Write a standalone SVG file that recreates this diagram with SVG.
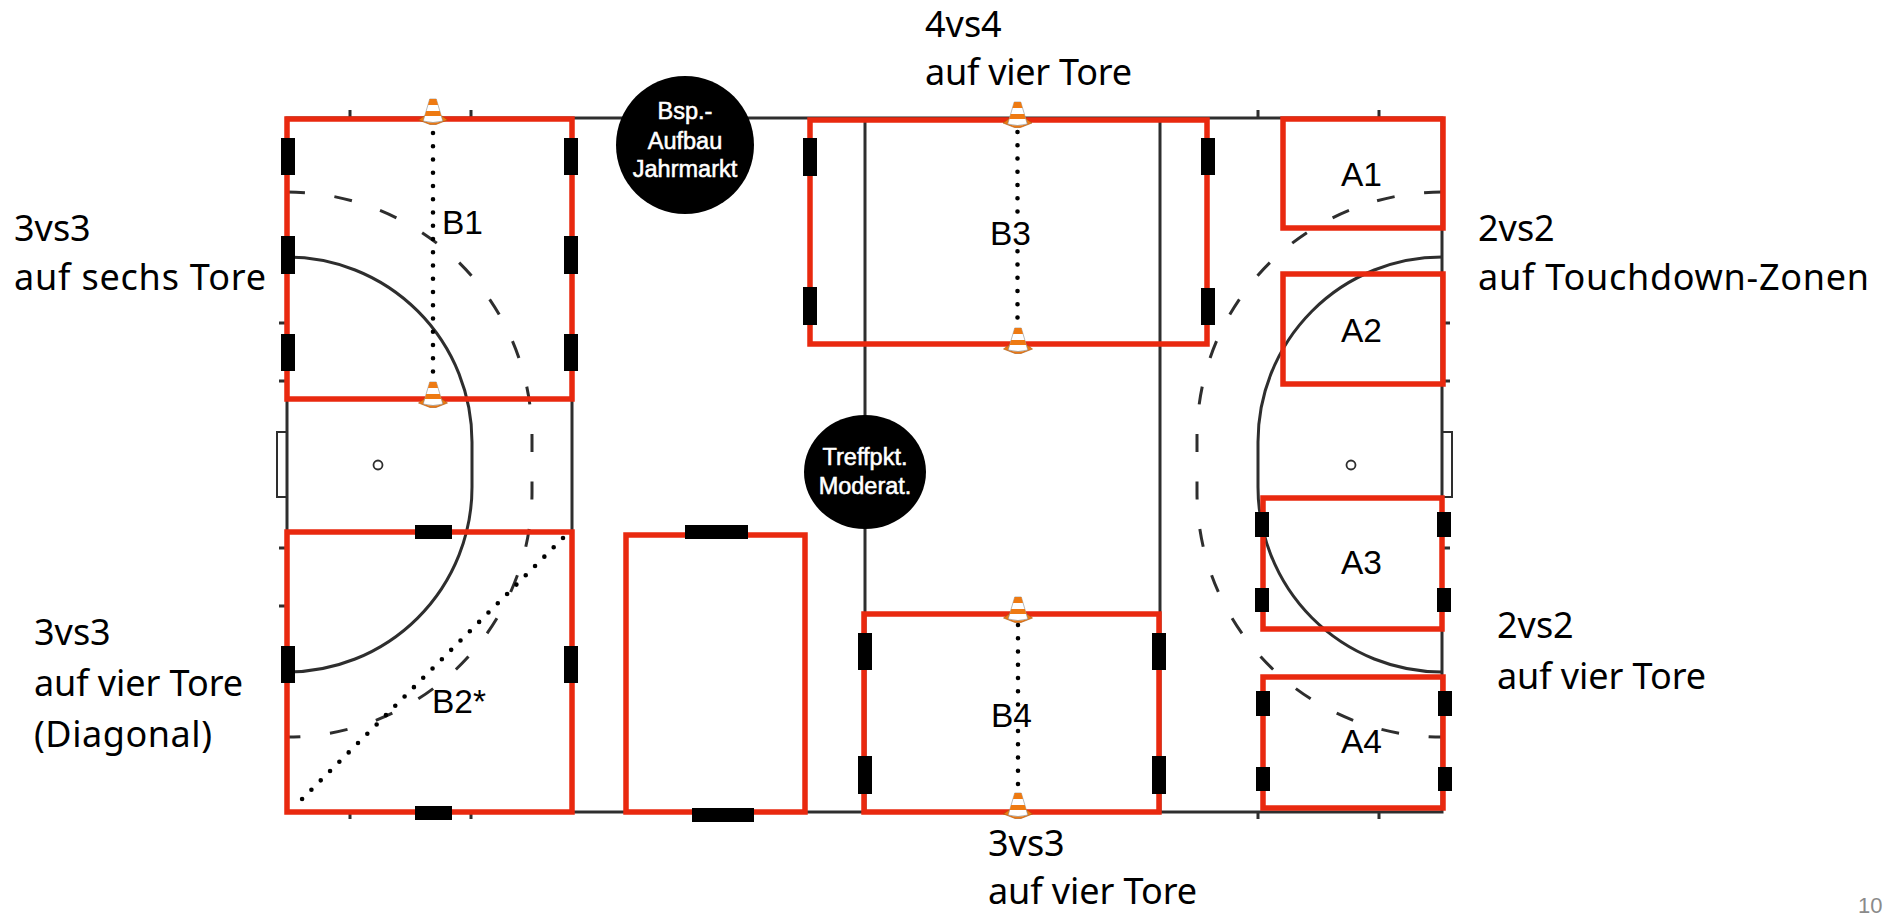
<svg xmlns="http://www.w3.org/2000/svg" xmlns:xlink="http://www.w3.org/1999/xlink" width="1888" height="915" viewBox="0 0 1888 915">
<style>
.ln{fill:none;stroke:#2e2e2e;stroke-width:3}
.dash{fill:none;stroke:#2e2e2e;stroke-width:3;stroke-dasharray:18 29.7}
.dots{fill:none;stroke:#000;stroke-width:4.6;stroke-linecap:round;stroke-dasharray:0 13.25}
.red{fill:none;stroke:#e9290f;stroke-width:5.5}
.g{fill:#000}
.lab{font-family:"Liberation Sans",Arial,sans-serif;font-size:33.5px;fill:#000}
.big{font-family:"Noto Sans","Open Sans",sans-serif;font-size:36px;fill:#000}
.w{font-family:"Liberation Sans",Arial,sans-serif;font-size:23.5px;fill:#fff;stroke:#fff;stroke-width:.55;text-anchor:middle}
.pg{font-family:"Liberation Sans",Arial,sans-serif;font-size:22px;fill:#8a8a8a}
</style>
<defs>
<g id="cone">
<path d="M-9 17 L-14.5 21 L-3 25.500 L3 25.500 L14.5 21 L9 17 Z" fill="#ee7a12" stroke="#a9520c" stroke-width=".6"/>
<path d="M-3.300 0 L3.300 0 L9.800 22 Q0 25 -9.800 22 Z" fill="#fff" stroke="#888" stroke-width=".6"/>
<path d="M-3.300 0 L3.300 0 L5 6 L-5 6 Z M-6.800 12 L6.800 12 L8.300 17 L-8.300 17 Z" fill="#ee7a12"/>
</g>
</defs>
<rect width="1888" height="915" fill="#fff"/>
<g id="field">
<path class="ln" d="M287 118H1442V812H287ZM572 118V812M865 118V812M1160 118V812"/>
<path class="ln" d="M287 432H277V497H287M1442 432H1452V497H1442" style="stroke-width:2"/>
<path class="ln" d="M350 110V118M471 110V118M1258 110V118M1379 110V118M350 812V819M471 812V819M1258 812V819M1379 812V819M279 323H287M279 381H287M279 548H287M279 606H287M1442 323H1450M1442 381H1450M1442 548H1450M1442 606H1450"/>
<path class="ln" d="M287 257A185 185 0 0 1 472 442V487A185 185 0 0 1 287 672"/>
<path class="ln" d="M1442 257A184 185 0 0 0 1258 442V487A184 185 0 0 0 1442 672"/>
<path class="dash" d="M287 192A245 245 0 0 1 532 437V492A245 245 0 0 1 287 737"/>
<path class="dash" d="M1442 192A245 245 0 0 0 1197 437V492A245 245 0 0 0 1442 737"/>
<circle class="ln" cx="378" cy="465" r="4.500" style="stroke-width:1.8"/>
<circle class="ln" cx="1351" cy="465" r="4.500" style="stroke-width:1.8"/>
</g>
<g id="connectors">
<path class="dots" d="M433 133V373"/>
<path class="dots" d="M1017.500 132V331"/>
<path class="dots" d="M1018 625V785"/>
<path class="dots" d="M563 538L302 799.100" style="stroke-dasharray:0 13.18"/>
</g>
<g id="B1">
<rect class="red" x="287" y="119" width="285" height="280"/>
<path class="g" d="M281 138h14v37h-14zM281 236h14v38h-14zM281 334h14v37h-14zM564 138h14v37h-14zM564 236h14v38h-14zM564 334h14v37h-14z"/>
<use xlink:href="#cone" href="#cone" x="433" y="99"/>
<use xlink:href="#cone" href="#cone" x="433" y="382"/>
<text class="lab" x="442" y="234">B1</text>
</g>
<g id="B2">
<rect class="red" x="287" y="532" width="285" height="280"/>
<path class="g" d="M415 525h37v14h-37zM415 806h37v14h-37zM281 646h14v37h-14zM564 646h14v37h-14z"/>
<text class="lab" x="432" y="713">B2*</text>
</g>
<g id="mid">
<rect class="red" x="626" y="535" width="179" height="277"/>
<path class="g" d="M685 525h63v14h-63zM692 808h62v14h-62z"/>
</g>
<g id="B3">
<rect class="red" x="810" y="120" width="397" height="224"/>
<path class="g" d="M803 138h14v38h-14zM803 287h14v38h-14zM1201 138h14v37h-14zM1201 288h14v37h-14z"/>
<use xlink:href="#cone" href="#cone" x="1017.500" y="102"/>
<use xlink:href="#cone" href="#cone" x="1018" y="328"/>
<rect x="992" y="219" width="50" height="27" fill="#fff"/>
<text class="lab" x="990" y="245">B3</text>
</g>
<g id="B4">
<rect class="red" x="864" y="614" width="295" height="198"/>
<path class="g" d="M858 633h14v37h-14zM858 756h14v38h-14zM1152 633h14v37h-14zM1152 756h14v38h-14z"/>
<use xlink:href="#cone" href="#cone" x="1018" y="597"/>
<use xlink:href="#cone" href="#cone" x="1018" y="793"/>
<rect x="992" y="709" width="50" height="19" fill="#fff"/>
<text class="lab" x="991" y="727">B4</text>
</g>
<g id="A1"><rect class="red" x="1283" y="119" width="160" height="109"/><text class="lab" x="1341" y="186">A1</text></g>
<g id="A2"><rect class="red" x="1283" y="274" width="160" height="110"/><text class="lab" x="1341" y="342">A2</text></g>
<g id="A3">
<rect class="red" x="1263" y="498" width="179" height="131"/>
<path class="g" d="M1255 512h14v25h-14zM1255 588h14v24h-14zM1437 512h14v25h-14zM1437 588h14v24h-14z"/>
<text class="lab" x="1341" y="574">A3</text>
</g>
<g id="A4">
<rect class="red" x="1263" y="677" width="180" height="131"/>
<path class="g" d="M1256 691h14v25h-14zM1256 767h14v24h-14zM1438 691h14v25h-14zM1438 767h14v24h-14z"/>
<text class="lab" x="1341" y="753">A4</text>
</g>
<g id="bsp">
<circle class="g" cx="685" cy="145" r="69"/>
<text class="w" x="685" y="119">Bsp.-</text>
<text class="w" x="685" y="149">Aufbau</text>
<text class="w" x="685" y="177">Jahrmarkt</text>
</g>
<g id="treff">
<ellipse class="g" cx="865" cy="472" rx="61" ry="57"/>
<text class="w" x="865" y="465">Treffpkt.</text>
<text class="w" x="865" y="494">Moderat.</text>
</g>
<g id="captions">
<text class="big" x="14" y="241">3vs3</text>
<text class="big" x="14" y="290" textLength="252">auf sechs Tore</text>
<text class="big" x="925" y="37">4vs4</text>
<text class="big" x="925" y="85" textLength="207">auf vier Tore</text>
<text class="big" x="1478" y="241">2vs2</text>
<text class="big" x="1478" y="290" textLength="391">auf Touchdown-Zonen</text>
<text class="big" x="34" y="645">3vs3</text>
<text class="big" x="34" y="696" textLength="209">auf vier Tore</text>
<text class="big" x="34" y="747" textLength="178">(Diagonal)</text>
<text class="big" x="1497" y="638">2vs2</text>
<text class="big" x="1497" y="689" textLength="209">auf vier Tore</text>
<text class="big" x="988" y="856">3vs3</text>
<text class="big" x="988" y="904" textLength="209">auf vier Tore</text>
<text class="pg" x="1858" y="913">10</text>
</g>
</svg>
